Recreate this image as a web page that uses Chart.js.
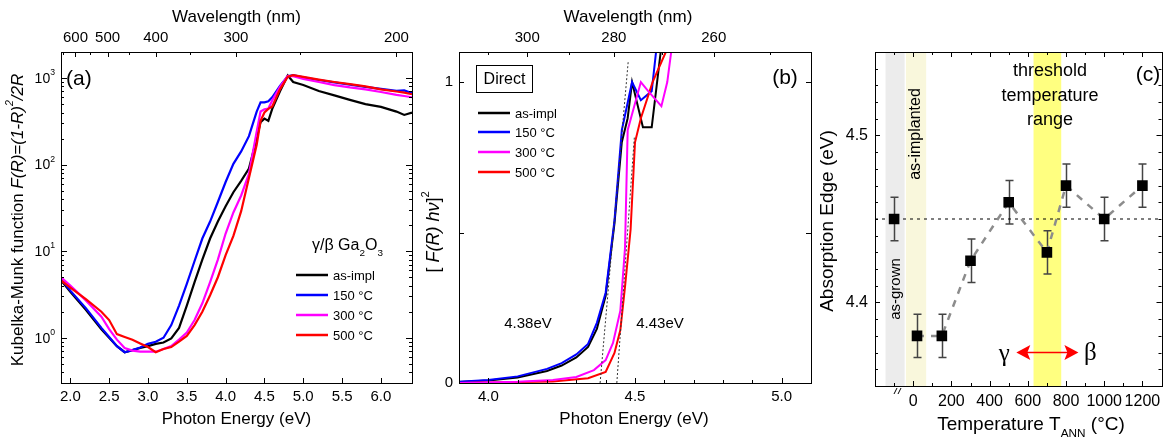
<!DOCTYPE html>
<html lang="en">
<head>
<meta charset="UTF-8" />
<title>Absorption edge of γ/β Ga2O3</title>
<script src="https://cdn.jsdelivr.net/npm/chart.js"></script>
<style>
  html, body { margin: 0; padding: 0; background: #fff; }
  #fig { position: relative; width: 1169px; height: 440px; overflow: hidden; }
  #fig canvas { position: absolute; top: 0; }
</style>
</head>
<body>
<div id="fig">
  <canvas id="chartA" width="415" height="440" style="left:0"></canvas>
  <canvas id="chartB" width="400" height="440" style="left:415px"></canvas>
  <canvas id="chartC" width="354" height="440" style="left:815px"></canvas>
</div>
<script>
// ---------- panel (a): Kubelka-Munk, log scale ----------
const energyA = [1.88, 2.0, 2.2, 2.4, 2.5, 2.6, 2.7, 2.8, 2.9, 3.0, 3.1, 3.2, 3.3, 3.4, 3.5, 3.6, 3.7, 3.8, 3.9, 4.0,
                 4.1, 4.2, 4.3, 4.4, 4.45, 4.5, 4.55, 4.6, 4.7, 4.8, 4.87, 5.0, 5.2, 5.4, 5.6, 5.8, 6.0, 6.2, 6.3, 6.4];
const kmAsImpl = [4.6, 3.4, 2.1, 1.25, 1.0, 0.8, 0.68, 0.72, 0.76, 0.8, 0.85, 0.88, 0.98, 1.3, 2.35, 4.4, 8, 14, 22, 33,
                  48, 65, 90, 200, 310, 340, 320, 440, 705, 1070, 900, 830, 710, 630, 560, 500, 465, 410, 375, 400];
const km150 = [4.8, 3.5, 2.2, 1.3, 1.02, 0.8, 0.68, 0.72, 0.77, 0.85, 0.9, 1.0, 1.4, 2.35, 4.2, 7.7, 14, 22, 37, 63,
               102, 142, 213, 410, 525, 525, 540, 600, 810, 1050, 1080, 1020, 950, 890, 840, 790, 750, 710, 720, 670];
const km300 = [5.0, 4.0, 2.7, 1.75, 1.26, 0.95, 0.76, 0.71, 0.69, 0.69, 0.69, 0.74, 0.8, 0.95, 1.15, 1.6, 2.5, 4.4, 8, 16,
               28, 44, 78, 240, 410, 435, 445, 550, 790, 1060, 1050, 980, 900, 830, 780, 740, 690, 640, 620, 600];
const km500 = [4.6, 3.8, 2.8, 2.0, 1.6, 1.1, 1.02, 0.95, 0.86, 0.78, 0.68, 0.74, 0.78, 0.9, 1.05, 1.4, 2.0, 3.1, 5.0, 9,
               15, 29, 70, 170, 320, 400, 440, 470, 740, 1040, 1080, 1030, 960, 900, 850, 800, 740, 700, 680, 650];

const seriesNames = ['as-impl', '150 °C', '300 °C', '500 °C'];
const seriesColors = ['#000000', '#0000ff', '#ff00ff', '#ff0000'];

const energyTicksA = [2.0, 2.5, 3.0, 3.5, 4.0, 4.5, 5.0, 5.5, 6.0];
const decadeTicksA = [1, 10, 100, 1000];
const wavelengthTicksA = [600, 500, 400, 300, 200];
const wavelengthMinorA = [650, 550, 450, 350, 250];

// ---------- panel (b): direct gap, [F(R) hv]^2 ----------
const energyBAsImpl = [3.9, 4.0, 4.1, 4.2, 4.25, 4.3, 4.34, 4.37, 4.4, 4.415, 4.43, 4.455, 4.475, 4.49, 4.527, 4.557, 4.59, 4.62];
const dirAsImpl = [0.003, 0.008, 0.018, 0.04, 0.058, 0.085, 0.12, 0.18, 0.29, 0.41, 0.53, 0.8, 0.88, 1.0, 0.85, 0.85, 1.12, 1.4];
const energyB150 = [3.9, 4.0, 4.1, 4.2, 4.25, 4.3, 4.34, 4.37, 4.4, 4.415, 4.43, 4.455, 4.49, 4.52, 4.557, 4.574, 4.6];
const dir150 = [0.004, 0.01, 0.022, 0.047, 0.066, 0.095, 0.13, 0.2, 0.3, 0.42, 0.54, 0.84, 1.0, 0.94, 0.97, 1.12, 1.35];
const energyB300 = [3.9, 4.1, 4.22, 4.3, 4.36, 4.4, 4.425, 4.45, 4.466, 4.475, 4.52, 4.545, 4.59, 4.61, 4.63];
const dir300 = [0.0, 0.004, 0.01, 0.02, 0.043, 0.076, 0.133, 0.24, 0.45, 0.84, 1.0, 0.97, 0.92, 1.0, 1.15];
const energyB500 = [3.9, 4.22, 4.34, 4.4, 4.43, 4.45, 4.466, 4.477, 4.485, 4.5, 4.52, 4.56, 4.605, 4.63];
const dir500 = [0.0, 0.005, 0.016, 0.037, 0.1, 0.176, 0.32, 0.43, 0.51, 0.8, 0.88, 1.0, 1.1, 1.16];

const tangentLowE = [4.381, 4.477];
const tangentLowV = [0, 1.07];
const tangentHighE = [4.438, 4.498];
const tangentHighV = [0, 0.82];

const energyTicksB = [4.0, 4.5, 5.0];
const valueTicksB = [0, 1];
const wavelengthTicksB = [300, 280, 260];
const wavelengthMinorB = [310, 290, 270, 250];

// ---------- panel (c): absorption edge vs annealing temperature ----------
const tempAnn = [-100, 20, 150, 300, 500, 700, 800, 1000, 1200];
const edgeAnn = [4.45, 4.38, 4.38, 4.425, 4.46, 4.43, 4.47, 4.45, 4.47];
const edgeErr = [0.013, 0.013, 0.013, 0.013, 0.013, 0.013, 0.013, 0.013, 0.013];
const refEdge = 4.45;
const tempTicksC = [0, 200, 400, 600, 800, 1000, 1200];
const edgeTicksC = [4.4, 4.5];
const asGrownBand = [-145, -45];
const asImplBand = [-38, 68];
const thresholdBand = [630, 775];

const hc = 1239.84;
const FONT = '"Liberation Sans", Arial, sans-serif';
const SERIF = '"Liberation Serif", "DejaVu Serif", serif';
Chart.defaults.font.family = FONT;
Chart.defaults.color = '#000';

const pts = (xs, ys) => xs.map((x, i) => ({ x: x, y: ys[i] }));
const range = (a, b, s) => { const r = []; for (let v = a; v <= b + 1e-9; v += s) r.push(+v.toFixed(4)); return r; };

// ---------- drawing helpers ----------
function frame(chart) {
    const ctx = chart.ctx, a = chart.chartArea;
    ctx.save();
    ctx.strokeStyle = '#000';
    ctx.lineWidth = 1;
    ctx.strokeRect(Math.round(a.left) + 0.5, Math.round(a.top) + 0.5,
        Math.round(a.right - a.left), Math.round(a.bottom - a.top));
    ctx.restore();
}

function tickMarks(chart, scaleId, side, values, len) {
    const ctx = chart.ctx, a = chart.chartArea, s = chart.scales[scaleId];
    ctx.save();
    ctx.strokeStyle = '#000';
    ctx.lineWidth = 1;
    ctx.beginPath();
    values.forEach(v => {
        const p = s.getPixelForValue(v);
        if (side === 'bottom' || side === 'top') {
            if (p < a.left + 1 || p > a.right - 1) return;
            const x = Math.round(p) + 0.5;
            const y0 = side === 'bottom' ? a.bottom : a.top;
            ctx.moveTo(x, y0);
            ctx.lineTo(x, side === 'bottom' ? y0 - len : y0 + len);
        } else {
            if (p < a.top + 1 || p > a.bottom - 1) return;
            const y = Math.round(p) + 0.5;
            const x0 = side === 'left' ? a.left : a.right;
            ctx.moveTo(x0, y);
            ctx.lineTo(side === 'left' ? x0 + len : x0 - len, y);
        }
    });
    ctx.stroke();
    ctx.restore();
}

// text made of parts: {t, italic, sup, sub}
function richText(ctx, x, y, parts, size, align, family) {
    const fam = family || FONT;
    const fontOf = p => (p.italic ? 'italic ' : '') + ((p.sup || p.sub) ? size * 0.62 : size) + 'px ' + fam;
    let w = 0;
    parts.forEach(p => { ctx.font = fontOf(p); w += ctx.measureText(p.t).width; });
    let cx = align === 'center' ? x - w / 2 : (align === 'right' ? x - w : x);
    ctx.textAlign = 'left';
    ctx.textBaseline = 'middle';
    ctx.fillStyle = '#000';
    parts.forEach(p => {
        ctx.font = fontOf(p);
        const dy = p.sup ? -size * 0.45 : (p.sub ? size * 0.45 : 0);
        ctx.fillText(p.t, cx, y + dy);
        cx += ctx.measureText(p.t).width;
    });
}

function rotatedText(ctx, x, y, parts, size, family) {
    ctx.save();
    ctx.translate(x, y);
    ctx.rotate(-Math.PI / 2);
    richText(ctx, 0, 0, parts, size, 'center', family);
    ctx.restore();
}

function legendLines(ctx, x0, x1, ys, size) {
    ctx.save();
    seriesNames.forEach((name, i) => {
        ctx.strokeStyle = seriesColors[i];
        ctx.lineWidth = 2.5;
        ctx.beginPath();
        ctx.moveTo(x0, ys[i]);
        ctx.lineTo(x1, ys[i]);
        ctx.stroke();
        richText(ctx, x1 + 5, ys[i] + 1, [{ t: name }], size, 'left');
    });
    ctx.restore();
}

function lineSet(label, xs, ys, color, width, order) {
    return { label: label, data: pts(xs, ys), borderColor: color, borderWidth: width,
             pointRadius: 0, tension: 0, fill: false, order: order };
}

function fixedAxis(extra) {
    return Object.assign({
        type: 'linear',
        grid: { display: false, drawTicks: false },
        border: { display: false }
    }, extra);
}

// ---------- chart (a) ----------
const logMinorA = [];
[0.1, 1, 10, 100, 1000].forEach(d => { for (let k = 2; k <= 9; k++) logMinorA.push(d * k); });

new Chart(document.getElementById('chartA'), {
    type: 'line',
    data: {
        datasets: [
            lineSet(seriesNames[0], energyA, kmAsImpl, seriesColors[0], 2.2, 4),
            lineSet(seriesNames[1], energyA, km150, seriesColors[1], 2.2, 3),
            lineSet(seriesNames[2], energyA, km300, seriesColors[2], 2.2, 2),
            lineSet(seriesNames[3], energyA, km500, seriesColors[3], 2.2, 1)
        ]
    },
    options: {
        responsive: false,
        animation: false,
        devicePixelRatio: 1,
        layout: { padding: { left: 0, right: 3, top: 0, bottom: 0 } },
        plugins: { legend: { display: false }, tooltip: { enabled: false } },
        scales: {
            x: fixedAxis({
                position: 'bottom', min: 1.88, max: 6.4,
                afterBuildTicks: s => { s.ticks = energyTicksA.map(v => ({ value: v })); },
                afterFit: s => { s.height = 57; },
                ticks: { padding: 5, autoSkip: false, maxRotation: 0, font: { size: 15 },
                         callback: v => v.toFixed(1) }
            }),
            x2: fixedAxis({
                axis: 'x', position: 'top', min: 1.88, max: 6.4,
                afterBuildTicks: s => { s.ticks = wavelengthTicksA.map(l => ({ value: hc / l })); },
                afterFit: s => { s.height = 52; },
                ticks: { padding: 5, autoSkip: false, maxRotation: 0, font: { size: 15 },
                         callback: v => String(Math.round(hc / v)) }
            }),
            y: {
                type: 'logarithmic', min: 0.3, max: 2000,
                grid: { display: false, drawTicks: false },
                border: { display: false },
                ticks: { display: false },
                afterBuildTicks: s => { s.ticks = decadeTicksA.map(v => ({ value: v })); },
                afterFit: s => { s.width = 61; }
            }
        }
    },
    plugins: [{
        id: 'decorA',
        afterDraw(chart) {
            const ctx = chart.ctx, a = chart.chartArea, y = chart.scales.y;
            frame(chart);
            tickMarks(chart, 'x', 'bottom', energyTicksA, 5);
            tickMarks(chart, 'x2', 'top', wavelengthTicksA.map(l => hc / l), 5);
            tickMarks(chart, 'x2', 'top', wavelengthMinorA.map(l => hc / l), 3);
            ['left', 'right'].forEach(side => {
                tickMarks(chart, 'y', side, decadeTicksA, 6);
                tickMarks(chart, 'y', side, logMinorA, 3);
            });
            decadeTicksA.forEach(d => {
                richText(ctx, a.left - 6, y.getPixelForValue(d) + 1,
                    [{ t: '10' }, { t: String(Math.round(Math.log10(d))), sup: true }], 14, 'right');
            });
            richText(ctx, (a.left + a.right) / 2, 17, [{ t: 'Wavelength (nm)' }], 17, 'center');
            richText(ctx, (a.left + a.right) / 2, 419, [{ t: 'Photon Energy (eV)' }], 17, 'center');
            rotatedText(ctx, 18, 220, [
                { t: 'Kubelka-Munk function ' },
                { t: 'F(R)=(1-R)', italic: true },
                { t: '2', sup: true, italic: true },
                { t: '/2R', italic: true }
            ], 17);
            richText(ctx, 66, 79, [{ t: '(a)' }], 21, 'left');
            richText(ctx, 312, 246, [{ t: 'γ/β ' }, { t: 'Ga' }, { t: '2', sub: true }, { t: 'O' }, { t: '3', sub: true }], 16, 'left');
            legendLines(ctx, 296, 328, [275, 295, 315, 335], 13);
        }
    }]
});

// ---------- chart (b) ----------
new Chart(document.getElementById('chartB'), {
    type: 'line',
    data: {
        datasets: [
            lineSet(seriesNames[0], energyBAsImpl, dirAsImpl, seriesColors[0], 2, 4),
            lineSet(seriesNames[1], energyB150, dir150, seriesColors[1], 2, 3),
            lineSet(seriesNames[2], energyB300, dir300, seriesColors[2], 2, 1),
            lineSet(seriesNames[3], energyB500, dir500, seriesColors[3], 2, 2),
            Object.assign(lineSet('tangent 4.38', tangentLowE, tangentLowV, '#333', 1, 0), { borderDash: [2, 2] }),
            Object.assign(lineSet('tangent 4.43', tangentHighE, tangentHighV, '#333', 1, 0), { borderDash: [2, 2] })
        ]
    },
    options: {
        responsive: false,
        animation: false,
        devicePixelRatio: 1,
        layout: { padding: { left: 0, right: 4, top: 0, bottom: 0 } },
        plugins: { legend: { display: false }, tooltip: { enabled: false } },
        scales: {
            x: fixedAxis({
                position: 'bottom', min: 3.9, max: 5.1,
                afterBuildTicks: s => { s.ticks = energyTicksB.map(v => ({ value: v })); },
                afterFit: s => { s.height = 57; },
                ticks: { padding: 5, autoSkip: false, maxRotation: 0, font: { size: 15 },
                         callback: v => v.toFixed(1) }
            }),
            x2: fixedAxis({
                axis: 'x', position: 'top', min: 3.9, max: 5.1,
                afterBuildTicks: s => { s.ticks = wavelengthTicksB.map(l => ({ value: hc / l })); },
                afterFit: s => { s.height = 52; },
                ticks: { padding: 5, autoSkip: false, maxRotation: 0, font: { size: 15 },
                         callback: v => String(Math.round(hc / v)) }
            }),
            y: fixedAxis({
                min: 0, max: 1.1,
                afterBuildTicks: s => { s.ticks = valueTicksB.map(v => ({ value: v })); },
                afterFit: s => { s.width = 44; },
                ticks: { padding: 6, font: { size: 15 }, callback: v => String(v) }
            })
        }
    },
    plugins: [{
        id: 'decorB',
        afterDraw(chart) {
            const ctx = chart.ctx, a = chart.chartArea;
            frame(chart);
            tickMarks(chart, 'x', 'bottom', energyTicksB, 5);
            tickMarks(chart, 'x', 'bottom', range(3.9, 5.1, 0.1), 3);
            tickMarks(chart, 'x2', 'top', wavelengthTicksB.map(l => hc / l), 5);
            tickMarks(chart, 'x2', 'top', wavelengthMinorB.map(l => hc / l), 3);
            ['left', 'right'].forEach(side => tickMarks(chart, 'y', side, [0, 0.5, 1], 5));
            richText(ctx, 213, 17, [{ t: 'Wavelength (nm)' }], 17, 'center');
            richText(ctx, 219, 419, [{ t: 'Photon Energy (eV)' }], 17, 'center');
            rotatedText(ctx, 19, 232, [
                { t: '[ ' }, { t: 'F(R)', italic: true }, { t: ' ' },
                { t: 'hν', italic: true }, { t: ']' }, { t: '2', sup: true }
            ], 18);
            richText(ctx, 370, 78, [{ t: '(b)' }], 21, 'center');
            ctx.save();
            ctx.strokeStyle = '#000';
            ctx.lineWidth = 1;
            ctx.strokeRect(61.5, 65.5, 56, 27);
            ctx.restore();
            richText(ctx, 89.5, 79.5, [{ t: 'Direct' }], 16, 'center');
            legendLines(ctx, 63, 95, [113, 132, 152, 172], 13);
            richText(ctx, 113, 324, [{ t: '4.38eV' }], 15, 'center');
            richText(ctx, 245, 324, [{ t: '4.43eV' }], 15, 'center');
        }
    }]
});

// ---------- chart (c) ----------
const arrowT = [540, 865];
const arrowEdge = 4.37;

new Chart(document.getElementById('chartC'), {
    type: 'line',
    data: {
        datasets: [
            { label: 'absorption edge', data: pts(tempAnn, edgeAnn), showLine: false,
              pointStyle: 'rect', pointRadius: 7.5, pointBackgroundColor: '#000', pointBorderColor: '#000',
              pointBorderWidth: 0, order: 0 },
            { label: 'trend', data: pts(tempAnn.slice(1), edgeAnn.slice(1)), borderColor: '#8c8c8c',
              borderWidth: 2.5, borderDash: [7, 7], pointRadius: 0, tension: 0, order: 1 },
            { label: 'as-grown level', data: pts([-200, 1300], [refEdge, refEdge]), borderColor: '#000',
              borderWidth: 1.2, borderDash: [3, 4], pointRadius: 0, order: 2 }
        ]
    },
    options: {
        responsive: false,
        animation: false,
        devicePixelRatio: 1,
        layout: { padding: { left: 0, right: 1, top: 52, bottom: 0 } },
        plugins: { legend: { display: false }, tooltip: { enabled: false } },
        scales: {
            x: fixedAxis({
                position: 'bottom', min: -200, max: 1300,
                afterBuildTicks: s => { s.ticks = tempTicksC.map(v => ({ value: v })); },
                afterFit: s => { s.height = 54; },
                ticks: { padding: 6, autoSkip: false, maxRotation: 0, font: { size: 16 },
                         callback: v => String(v) }
            }),
            y: fixedAxis({
                min: 4.35, max: 4.55,
                afterBuildTicks: s => { s.ticks = edgeTicksC.map(v => ({ value: v })); },
                afterFit: s => { s.width = 60; },
                ticks: { padding: 7, font: { size: 16 }, callback: v => v.toFixed(1) }
            })
        }
    },
    plugins: [{
        id: 'decorC',
        beforeDatasetsDraw(chart) {
            const ctx = chart.ctx, a = chart.chartArea, x = chart.scales.x, y = chart.scales.y;
            ctx.save();
            [[asGrownBand, '#ececec'], [asImplBand, '#f9f7dc'], [thresholdBand, '#ffff80']].forEach(b => {
                const x0 = x.getPixelForValue(b[0][0]), x1 = x.getPixelForValue(b[0][1]);
                ctx.fillStyle = b[1];
                ctx.fillRect(x0, a.top, x1 - x0, a.bottom - a.top);
            });
            // error bars
            ctx.strokeStyle = '#444';
            ctx.lineWidth = 1.5;
            tempAnn.forEach((t, i) => {
                const px = Math.round(x.getPixelForValue(t)) + 0.5;
                const top = y.getPixelForValue(edgeAnn[i] + edgeErr[i]);
                const bot = y.getPixelForValue(edgeAnn[i] - edgeErr[i]);
                ctx.beginPath();
                ctx.moveTo(px, top); ctx.lineTo(px, bot);
                ctx.moveTo(px - 4, top); ctx.lineTo(px + 4, top);
                ctx.moveTo(px - 4, bot); ctx.lineTo(px + 4, bot);
                ctx.stroke();
            });
            ctx.restore();
        },
        afterDraw(chart) {
            const ctx = chart.ctx, a = chart.chartArea, x = chart.scales.x, y = chart.scales.y;
            frame(chart);
            ['bottom', 'top'].forEach(side => {
                tickMarks(chart, 'x', side, tempTicksC, 5);
                tickMarks(chart, 'x', side, range(-100, 1100, 200), 3);
            });
            ['left', 'right'].forEach(side => {
                tickMarks(chart, 'y', side, edgeTicksC, 5);
                tickMarks(chart, 'y', side, range(4.36, 4.54, 0.01), 3);
            });
            // axis break mark
            ctx.save();
            ctx.strokeStyle = '#000';
            ctx.lineWidth = 1;
            ctx.beginPath();
            ctx.moveTo(79, 394); ctx.lineTo(82, 388);
            ctx.moveTo(83, 394); ctx.lineTo(86, 388);
            ctx.stroke();
            ctx.restore();

            rotatedText(ctx, 13, 221, [{ t: 'Absorption Edge (eV)' }], 19);
            richText(ctx, 216, 425, [{ t: 'Temperature T' }, { t: 'ANN', sub: true }, { t: ' (°C)' }], 19, 'center');
            richText(ctx, 333, 75, [{ t: '(c)' }], 21, 'center');
            richText(ctx, 235, 71, [{ t: 'threshold' }], 18, 'center');
            richText(ctx, 235, 96, [{ t: 'temperature' }], 18, 'center');
            richText(ctx, 235, 120, [{ t: 'range' }], 18, 'center');
            rotatedText(ctx, 101, 134, [{ t: 'as-implanted' }], 16);
            rotatedText(ctx, 81, 289, [{ t: 'as-grown' }], 15);

            // gamma -> beta transition arrow
            const ay = y.getPixelForValue(arrowEdge);
            const ax0 = x.getPixelForValue(arrowT[0]), ax1 = x.getPixelForValue(arrowT[1]);
            ctx.save();
            ctx.strokeStyle = '#ff0000';
            ctx.fillStyle = '#ff0000';
            ctx.lineWidth = 1.5;
            ctx.beginPath();
            ctx.moveTo(ax0 + 10, ay); ctx.lineTo(ax1 - 10, ay);
            ctx.stroke();
            ctx.beginPath();
            ctx.moveTo(ax0, ay); ctx.lineTo(ax0 + 14, ay - 7.5); ctx.lineTo(ax0 + 11, ay); ctx.lineTo(ax0 + 14, ay + 7.5);
            ctx.closePath(); ctx.fill();
            ctx.beginPath();
            ctx.moveTo(ax1, ay); ctx.lineTo(ax1 - 14, ay - 7.5); ctx.lineTo(ax1 - 11, ay); ctx.lineTo(ax1 - 14, ay + 7.5);
            ctx.closePath(); ctx.fill();
            ctx.restore();
            richText(ctx, ax0 - 12, ay + 2, [{ t: 'γ' }], 25, 'center', SERIF);
            richText(ctx, ax1 + 12, ay + 1, [{ t: 'β' }], 25, 'center', SERIF);
        }
    }]
});
</script>
</body>
</html>
